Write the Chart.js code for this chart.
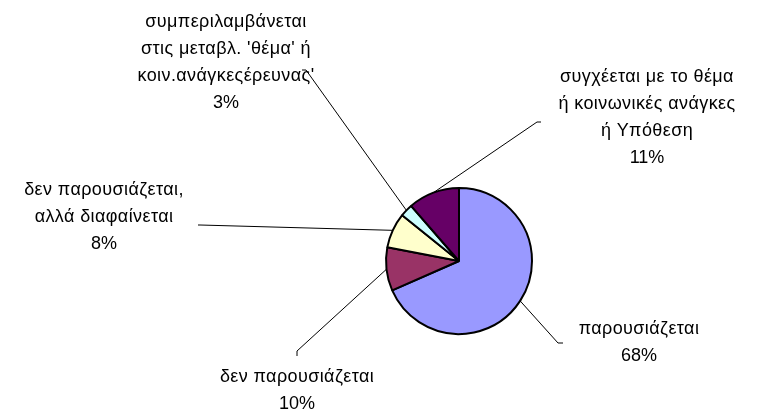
<!DOCTYPE html>
<html>
<head>
<meta charset="utf-8">
<script src="https://cdn.jsdelivr.net/npm/chart.js@4.4.1/dist/chart.umd.min.js"></script>
<style>
  html, body { margin: 0; padding: 0; background: #fff; }
  #wrap { width: 758px; height: 414px; position: relative; }
</style>
</head>
<body>
<div id="wrap"><canvas id="chart"></canvas></div>
<script>

/**********/
/********** DATA **********/
/**********/

const categories = [
  'παρουσιάζεται',
  'δεν παρουσιάζεται',
  'δεν παρουσιάζεται, αλλά διαφαίνεται',
  "συμπεριλαμβάνεται στις μεταβλ. 'θέμα' ή κοιν.ανάγκεςέρευνας'",
  'συγχέεται με το θέμα ή κοινωνικές ανάγκες ή Υπόθεση'
]

// how each category name is broken on the picture
const categoryLines = [
  ['παρουσιάζεται'],
  ['δεν παρουσιάζεται'],
  ['δεν παρουσιάζεται,', 'αλλά διαφαίνεται'],
  ['συμπεριλαμβάνεται', "στις μεταβλ. 'θέμα' ή", "κοιν.ανάγκεςέρευνας'"],
  ['συγχέεται με το θέμα', 'ή κοινωνικές ανάγκες', 'ή Υπόθεση']
]

const shares = [68.4, 9.6, 7.8, 2.8, 11.4]

const sliceColors = ['#9999FF', '#993366', '#FFFFCC', '#CCFFFF', '#660066']

/************************************************************/

/**********/
/********** LABEL LAYOUT **********/
/**********/

// label centre x, first line y, leader end, leader tick end
const labelLayout = [
  { x: 639, y: 329, end: [558, 343], tick: [563, 343] },
  { x: 297, y: 377, end: [297, 351], tick: [297, 356] },
  { x: 104, y: 190, end: [200, 225], tick: [198, 225] },
  { x: 226, y: 22, end: [306, 70], tick: [302, 70] },
  { x: 647, y: 77, end: [537, 122], tick: [541, 122] }
]

const LINE_H = 27

/************************************************************/

/**********/
/********** LABELS PLUGIN **********/
/**********/

const sliceLabels = {
  id: 'sliceLabels',
  afterDatasetsDraw: (chart) => {
    const ctx = chart.ctx
    const meta = chart.getDatasetMeta(0)
    const total = shares.reduce((a, b) => a + b, 0)

    ctx.save()
    meta.data.forEach((arc, i) => {
      const p = arc.getProps(['x', 'y', 'startAngle', 'endAngle', 'outerRadius'], true)
      const mid = (p.startAngle + p.endAngle) / 2
      const sx = p.x + Math.cos(mid) * p.outerRadius
      const sy = p.y + Math.sin(mid) * p.outerRadius
      const lay = labelLayout[i]

      // leader line
      ctx.strokeStyle = '#000'
      ctx.lineWidth = 1
      ctx.beginPath()
      ctx.moveTo(sx, sy)
      ctx.lineTo(lay.end[0], lay.end[1])
      ctx.lineTo(lay.tick[0], lay.tick[1])
      ctx.stroke()

      // text
      ctx.fillStyle = '#000'
      ctx.font = '18px "Liberation Sans", Arial, sans-serif'
      ctx.textAlign = 'center'
      ctx.textBaseline = 'middle'
      ctx.letterSpacing = '0.4px'
      categoryLines[i].forEach((t, k) => {
        ctx.fillText(t, lay.x, lay.y + k * LINE_H)
      })
      ctx.letterSpacing = '0px'
      const pct = Math.round(shares[i] / total * 100) + '%'
      ctx.fillText(pct, lay.x, lay.y + categoryLines[i].length * LINE_H)
    })
    ctx.restore()
  }
}

/************************************************************/

/**********/
/********** CHART **********/
/**********/

new Chart(document.getElementById('chart'), {
  type: 'pie',
  data: {
    labels: categories,
    datasets: [{
      data: shares,
      backgroundColor: sliceColors,
      borderColor: '#000',
      borderWidth: 2,
      borderAlign: 'center'
    }]
  },
  options: {
    responsive: true,
    maintainAspectRatio: false,
    animation: false,
    events: [],
    layout: { padding: { left: 385, right: 225, top: 187, bottom: 79 } },
    plugins: {
      legend: { display: false },
      tooltip: { enabled: false }
    }
  },
  plugins: [sliceLabels]
})

</script>
</body>
</html>
